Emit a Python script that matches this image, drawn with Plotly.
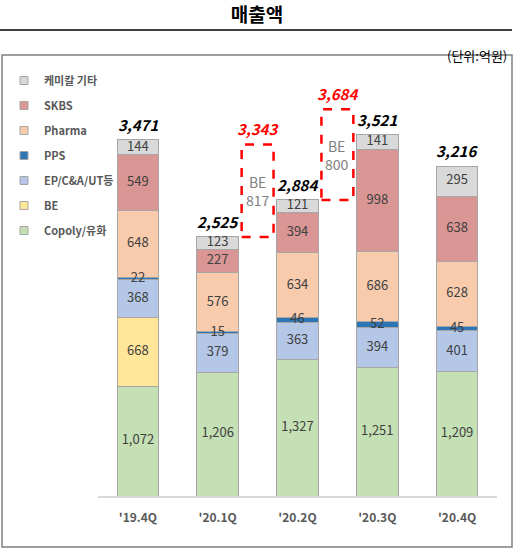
import numpy as np
import plotly.graph_objects as go

quarters = ["'19.4Q", "'20.1Q", "'20.2Q", "'20.3Q", "'20.4Q"]
copoly = [1072, 1206, 1327, 1251, 1209]
be = [668, 0, 0, 0, 0]
ep_ca_ut = [368, 379, 363, 394, 401]
pps = [22, 15, 46, 52, 45]
pharma = [648, 576, 634, 686, 628]
skbs = [549, 227, 394, 998, 638]
chem_etc = [144, 123, 121, 141, 295]
totals = [3471, 2525, 2884, 3521, 3216]

# BE 포함 시 합계 (점선 박스, 해당 분기 막대 오른쪽)
be_box_idx = [1, 2]
be_box_values = [817, 800]
be_box_totals = [3343, 3684]

series = [
    ("Copoly/유화", copoly, "#C5E0B4"),
    ("BE", be, "#FFE699"),
    ("EP/C&A/UT등", ep_ca_ut, "#B4C7E7"),
    ("PPS", pps, "#2E75B6"),
    ("Pharma", pharma, "#F8CBAD"),
    ("SKBS", skbs, "#DA9694"),
    ("케미칼 기타", chem_etc, "#D9D9D9"),
]

W, H = 514, 548
L, R, T, B = 98, 17, 90, 52
FONT = "Noto Sans CJK KR"


def px_x(px):
    return (px - L) / (W - L - R)


def px_y(py):
    return (H - B - py) / (H - T - B)


fig = go.Figure()

base = np.zeros(len(quarters))
for k, (name, vals, color) in enumerate(series):
    vals = np.array(vals, dtype=float)
    fig.add_trace(go.Bar(
        x=quarters, y=vals, name=name, showlegend=False,
        marker=dict(color=color, line=dict(color="#A6A6A6", width=1)),
        width=0.52, hoverinfo="skip",
    ))
    # 범례용 (작은 사각형)
    fig.add_trace(go.Scatter(
        x=[None], y=[None], mode="markers", name=name, legendgroup=name,
        legendrank=100 - k,
        marker=dict(symbol="square", size=8, color=color,
                    line=dict(color="#A6A6A6", width=1)),
    ))
    mids = base + vals / 2
    labels = [f"{int(v):,}" if v > 0 else "" for v in vals]
    fig.add_trace(go.Scatter(
        x=quarters, y=mids, text=labels, mode="text", showlegend=False,
        textfont=dict(family=FONT, size=13, color="#404040"),
        hoverinfo="skip",
    ))
    base = base + vals

# 합계 라벨
for q, tot in zip(quarters, totals):
    fig.add_annotation(
        x=q, y=tot, text=f"{tot:,}", showarrow=False, yanchor="bottom", yshift=3,
        font=dict(family=FONT, size=15, color="black", weight="bold", style="italic"),
    )

# BE 점선 박스
pad = 85
for i, bv, bt in zip(be_box_idx, be_box_values, be_box_totals):
    y0 = totals[i]
    y1 = totals[i] + bv + pad
    fig.add_shape(type="rect", x0=i + 0.3, x1=i + 0.7, y0=y0, y1=y1,
                  line=dict(color="#FF0000", width=2.5, dash="dash"))
    fig.add_annotation(x=i + 0.5, y=(y0 + y1) / 2, text=f"BE<br>{bv}", showarrow=False,
                       font=dict(family=FONT, size=14, color="#808080"))
    fig.add_annotation(x=i + 0.5, y=y1, text=f"{bt:,}", showarrow=False,
                       yanchor="bottom", yshift=3,
                       font=dict(family=FONT, size=15, color="#FF0000",
                                 weight="bold", style="italic"))

# 제목 아래 선, 차트 테두리
fig.add_shape(type="line", xref="paper", yref="paper",
              x0=px_x(0), x1=px_x(512), y0=px_y(30), y1=px_y(30),
              line=dict(color="black", width=1.5))
fig.add_shape(type="rect", xref="paper", yref="paper",
              x0=px_x(2), x1=px_x(512), y0=px_y(547), y1=px_y(55),
              line=dict(color="#7F7F7F", width=1.5), layer="below")
fig.add_annotation(xref="paper", yref="paper", x=px_x(509), y=px_y(44),
                   text="(단위:억원)", showarrow=False, xanchor="right",
                   font=dict(family=FONT, size=13, color="black"))

fig.update_layout(
    width=W, height=H,
    margin=dict(l=L, r=R, t=T, b=B, autoexpand=False),
    barmode="stack",
    paper_bgcolor="white", plot_bgcolor="white",
    title=dict(text="<b>매출액</b>", x=257 / W, xref="container", xanchor="center",
               y=1 - 15 / H, yref="container", yanchor="middle",
               font=dict(family=FONT, size=19, color="black")),
    legend=dict(xref="container", yref="container", x=4 / W, y=1 - 66 / H,
                xanchor="left", yanchor="top",
                traceorder="grouped", tracegroupgap=6, itemsizing="trace",
                bgcolor="rgba(0,0,0,0)",
                font=dict(family=FONT, size=11, color="#595959", weight="bold")),
    xaxis=dict(showline=True, linecolor="#D9D9D9", linewidth=1.5, ticks="",
               range=[-0.5, 4.5], ticklabelstandoff=10,
               tickfont=dict(family=FONT, size=12, color="#595959", weight="bold")),
    yaxis=dict(range=[0, 3957], visible=False, showgrid=False),
    showlegend=True,
)

fig.write_html("out.html", config={"displayModeBar": False},
               post_script="document.body.style.margin='0';")
